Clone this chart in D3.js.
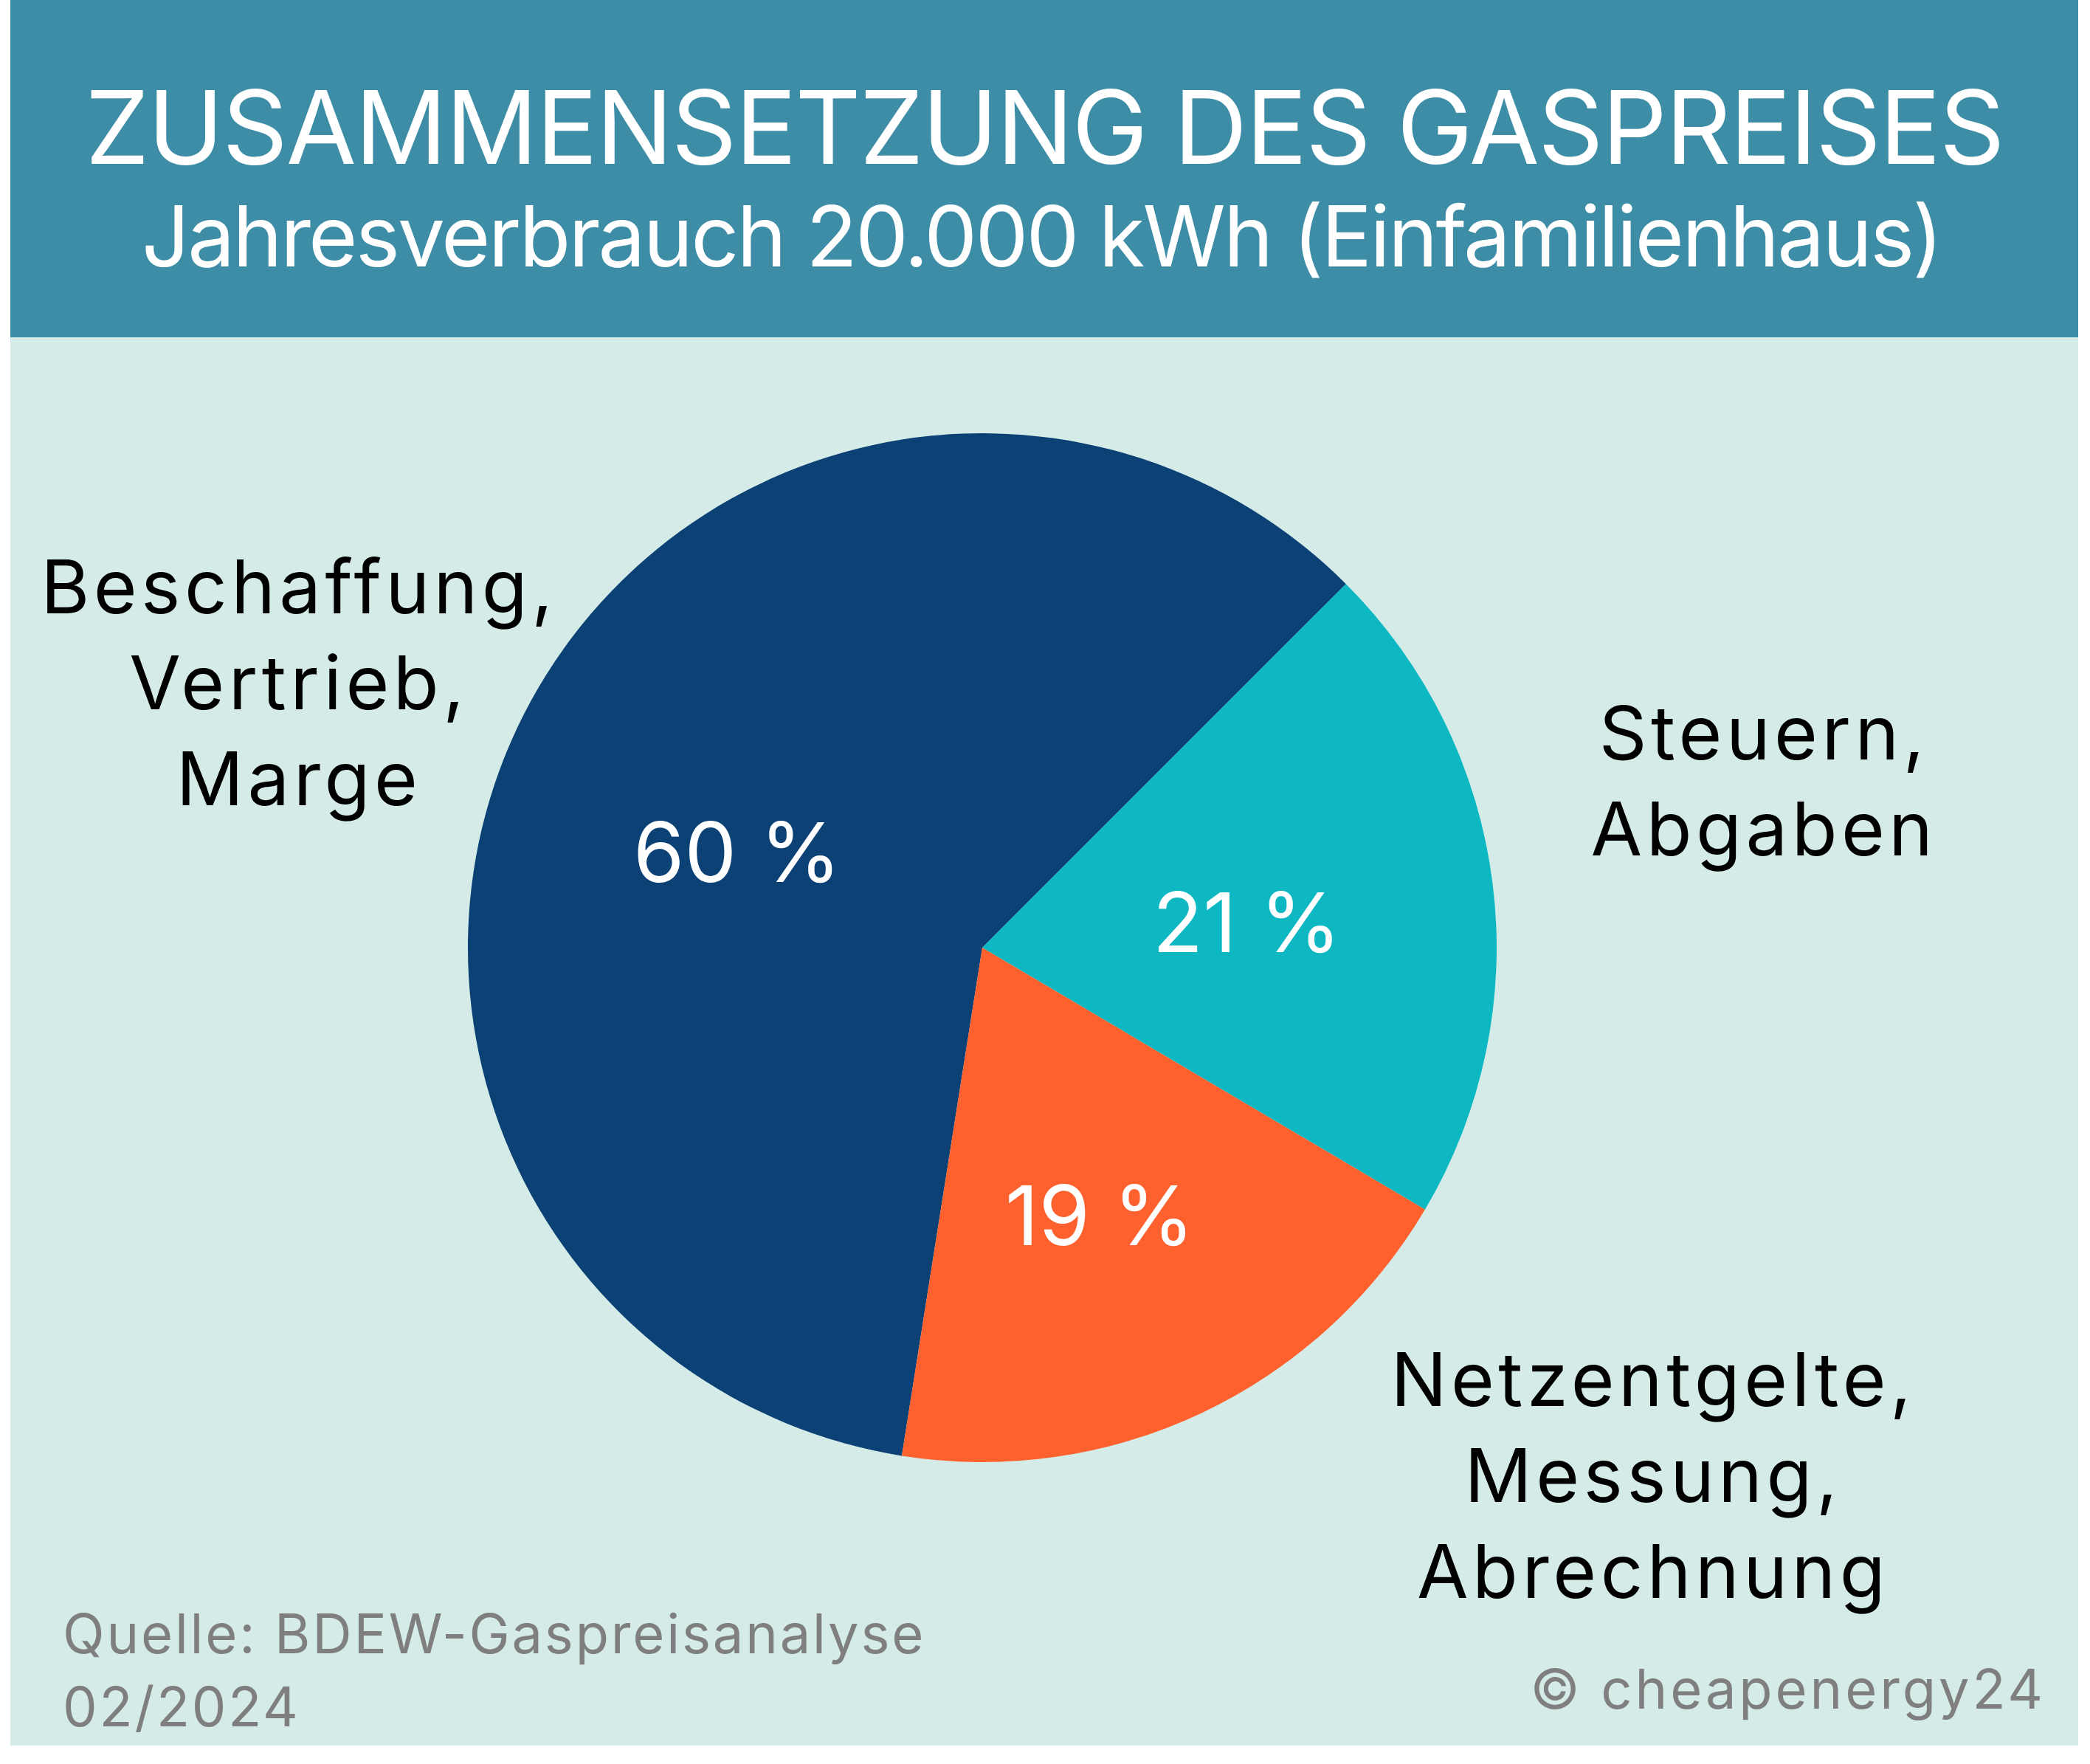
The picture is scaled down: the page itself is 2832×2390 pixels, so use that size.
<!DOCTYPE html>
<html><head><meta charset="utf-8">
<script src="https://cdn.jsdelivr.net/npm/d3@7"></script>
<style>html,body{margin:0;padding:0;background:#fff;}svg{display:block;}</style>
</head><body>
<script>
const categories = [["Beschaffung,", "Vertrieb,", "Marge"], ["Steuern,", "Abgaben"], ["Netzentgelte,", "Messung,", "Abrechnung"]];
const values = [60, 21, 19];
const valueLabels = ["60 %", "21 %", "19 %"];
const colors = ["#0B4174", "#0DB8C3", "#FF612E"];
const title = "ZUSAMMENSETZUNG DES GASPREISES";
const subtitle = "Jahresverbrauch 20.000 kWh (Einfamilienhaus)";
const sourceLines = ["Quelle: BDEW-Gaspreisanalyse", "02/2024"];
const credit = "© cheapenergy24";

const W = 2832, H = 2390;
const FONT = "Inter, 'Noto Sans', sans-serif";
const svg = d3.select("body").append("svg").attr("width", W).attr("height", H);

svg.append("rect").attr("x", 14).attr("y", 0).attr("width", 2802).attr("height", 2365).attr("fill", "#D5EBE8");
svg.append("rect").attr("x", 14).attr("y", 0).attr("width", 2802).attr("height", 457).attr("fill", "#3D8DA7");

function fit(sel, w) {
  const n = sel.node(); const len = n.getComputedTextLength();
  const chars = n.textContent.length;
  if (chars > 1) sel.attr("letter-spacing", (w - len) / (chars - 1));
}

const t = svg.append("text").attr("x", 1415).attr("y", 222).attr("text-anchor", "middle")
  .attr("fill", "#fff").attr("font-family", FONT).attr("font-size", 138).text(title);
fit(t, 2601);
const st = svg.append("text").attr("x", 1411).attr("y", 361).attr("text-anchor", "middle")
  .attr("fill", "#fff").attr("font-family", FONT).attr("font-size", 114).text(subtitle);
fit(st, 2441);

const cx = 1331, cy = 1284, R = 697;
const deg = Math.PI / 180;
const pie = d3.pie().sort(null).value(d => d).startAngle(-171 * deg).endAngle(189 * deg);
const arcs = pie(values);
const arc = d3.arc().innerRadius(0).outerRadius(R);
const labelArc = d3.arc().innerRadius(0).outerRadius(R * 1.06);
const labelShift = [[-3, 38], [-8, 12], [2, 28]];

const g = svg.append("g").attr("transform", `translate(${cx},${cy})`);
g.selectAll("path").data(arcs).join("path").attr("d", arc).attr("fill", (d, i) => colors[i]);

g.selectAll("text.val").data(arcs).join("text").attr("class", "val")
  .attr("transform", (d, i) => { const c = labelArc.centroid(d); return `translate(${c[0] + labelShift[i][0]},${c[1] + labelShift[i][1]})`; })
  .attr("text-anchor", "middle").attr("dy", "0.36em")
  .attr("fill", "#fff").attr("font-family", FONT).attr("font-size", 112)
  .text((d, i) => valueLabels[i]);

// outside category labels
const catPos = [{x: 405, y: 831}, {x: 2390, y: 1029}, {x: 2240, y: 1905}];
categories.forEach((lines, i) => {
  const tx = svg.append("text").attr("text-anchor", "middle").attr("fill", "#000")
    .attr("font-family", FONT).attr("font-size", 101).attr("letter-spacing", 5.5);
  lines.forEach((l, j) => tx.append("tspan").attr("x", catPos[i].x).attr("y", catPos[i].y + j * 130).text(l));
});

const src = svg.append("text").attr("fill", "#7F7F7F").attr("font-family", FONT).attr("font-size", 74).attr("letter-spacing", 2.8);
sourceLines.forEach((l, j) => src.append("tspan").attr("x", 85).attr("y", 2240 + j * 99).text(l));
const cr = svg.append("text").attr("x", 2772).attr("y", 2315).attr("text-anchor", "end").attr("fill", "#7F7F7F")
  .attr("font-family", FONT).attr("font-size", 74).text(credit);
fit(cr, 695);
</script>
</body></html>
